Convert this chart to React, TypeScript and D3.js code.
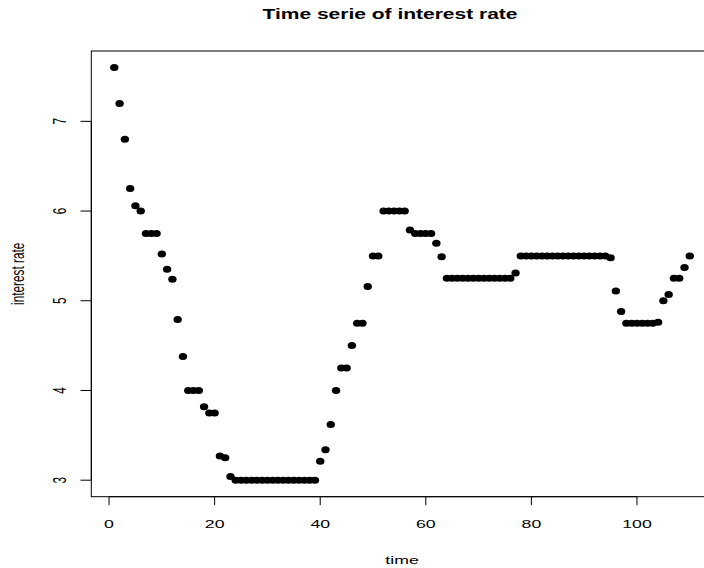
import React from "react";
import * as d3 from "d3";

const rates: number[] = [
  7.6, 7.2, 6.8, 6.25, 6.06, 6.0, 5.75, 5.75, 5.75, 5.52,
  5.35, 5.24, 4.79, 4.38, 4.0, 4.0, 4.0, 3.82, 3.75, 3.75,
  3.27, 3.25, 3.04, 3.0, 3.0, 3.0, 3.0, 3.0, 3.0, 3.0,
  3.0, 3.0, 3.0, 3.0, 3.0, 3.0, 3.0, 3.0, 3.0, 3.21,
  3.34, 3.62, 4.0, 4.25, 4.25, 4.5, 4.75, 4.75, 5.16, 5.5,
  5.5, 6.0, 6.0, 6.0, 6.0, 6.0, 5.79, 5.75, 5.75, 5.75,
  5.75, 5.64, 5.49, 5.25, 5.25, 5.25, 5.25, 5.25, 5.25, 5.25,
  5.25, 5.25, 5.25, 5.25, 5.25, 5.25, 5.31, 5.5, 5.5, 5.5,
  5.5, 5.5, 5.5, 5.5, 5.5, 5.5, 5.5, 5.5, 5.5, 5.5,
  5.5, 5.5, 5.5, 5.5, 5.48, 5.11, 4.88, 4.75, 4.75, 4.75,
  4.75, 4.75, 4.75, 4.76, 5.0, 5.07, 5.25, 5.25, 5.37, 5.5,
];

const xTicks: number[] = [0, 20, 40, 60, 80, 100];
const yTicks: number[] = [3, 4, 5, 6, 7];

const title = "Time serie of interest rate";
const xLabel = "time";
const yLabel = "interest rate";

const W = 704;
const H = 568;
const left = 91.3;
const right = 712.8;
const top = 51;
const bottom = 496.7;
const SX = 1.5; // horizontal stretch of the original rendering
const FONT = "'Liberation Sans', Arial, Helvetica, sans-serif";

export default function App() {
  const n = rates.length;
  const xPad = (n - 1) * 0.04;
  const yMin = d3.min(rates) as number;
  const yMax = d3.max(rates) as number;
  const yPad = (yMax - yMin) * 0.04;
  const x = d3.scaleLinear().domain([1 - xPad, n + xPad]).range([left, right]);
  const y = d3.scaleLinear().domain([yMin - yPad, yMax + yPad]).range([bottom, top]);

  const axisY = 496.7;
  const axisX = 91.3;

  return (
    <svg
      width={W}
      height={H}
      style={{ position: "absolute", left: 0, top: 0, display: "block", background: "#fff" }}
      fontFamily={FONT}
    >
      <rect x={0} y={0} width={W} height={H} fill="#fff" />
      {/* plot box */}
      <rect x={left} y={top} width={right - left} height={bottom - top} fill="none" stroke="#000" strokeWidth={1} />
      {/* x axis */}
      <line x1={x(xTicks[0])} x2={x(xTicks[xTicks.length - 1])} y1={axisY} y2={axisY} stroke="#000" strokeWidth={1} />
      {xTicks.map((t) => (
        <g key={"xt" + t}>
          <line x1={x(t)} x2={x(t)} y1={axisY} y2={axisY + 8.5} stroke="#000" strokeWidth={1} />
          <text
            transform={`translate(${x(t)},${527.8}) scale(${SX},1)`}
            textAnchor="middle"
            fontSize={11.8}
            fill="#000"
          >
            {t}
          </text>
        </g>
      ))}
      {/* y axis */}
      <line x1={axisX} x2={axisX} y1={y(yTicks[0])} y2={y(yTicks[yTicks.length - 1])} stroke="#000" strokeWidth={1} />
      {yTicks.map((t) => (
        <g key={"yt" + t}>
          <line x1={axisX - 10.8} x2={axisX} y1={y(t)} y2={y(t)} stroke="#000" strokeWidth={1} />
          <text
            transform={`translate(${65.7},${y(t)}) scale(${SX},1) rotate(-90)`}
            textAnchor="middle"
            fontSize={11.8}
            fill="#000"
          >
            {t}
          </text>
        </g>
      ))}
      {/* points */}
      {rates.map((v, i) => (
        <ellipse key={"p" + i} cx={x(i + 1)} cy={y(v)} rx={4.2} ry={3.5} fill="#000" />
      ))}
      {/* title */}
      <text
        transform={`translate(${390},${18.5}) scale(${SX},1)`}
        textAnchor="middle"
        fontSize={14}
        fontWeight="bold"
        fill="#000"
      >
        {title}
      </text>
      {/* x label */}
      <text
        transform={`translate(${(left + right) / 2},${564}) scale(${SX},1)`}
        textAnchor="middle"
        fontSize={11.8}
        fill="#000"
      >
        {xLabel}
      </text>
      {/* y label */}
      <text
        transform={`translate(${23.5},${(top + bottom) / 2}) scale(${SX},1) rotate(-90)`}
        textAnchor="middle"
        fontSize={11.8}
        fill="#000"
      >
        {yLabel}
      </text>
    </svg>
  );
}
